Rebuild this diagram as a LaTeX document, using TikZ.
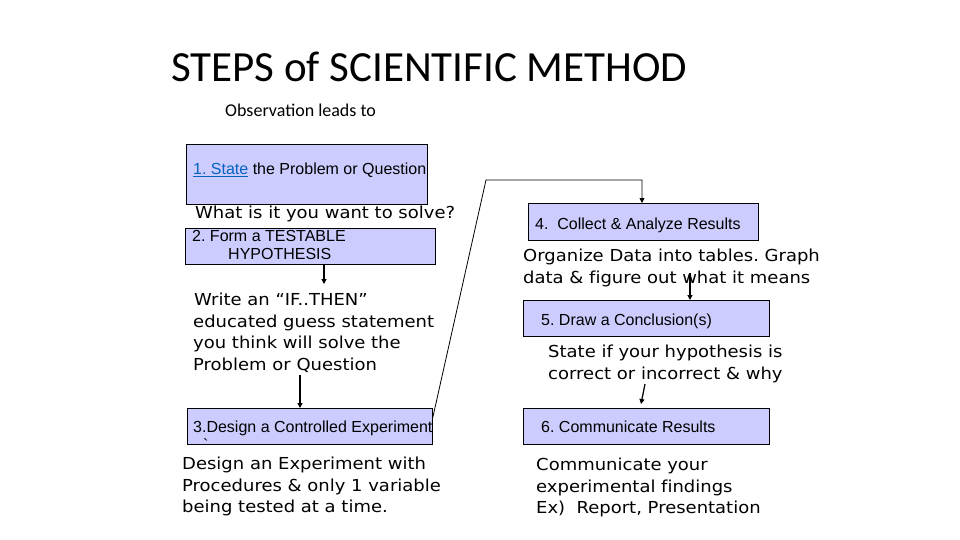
\documentclass[tikz,border=0pt]{standalone}
\usepackage{fontspec}
\setmainfont{Liberation Sans}
\newfontfamily\titlefont{Carlito}
\newfontfamily\bodyfont[FakeStretch=1.09,Ligatures=NoCommon]{DejaVu Sans}
\newfontfamily\boxfont{Liberation Sans}
\usetikzlibrary{arrows.meta}
\definecolor{boxfill}{RGB}{204,204,255}
\definecolor{linkblue}{RGB}{5,99,193}
\tikzset{
  stepbox/.style={draw=black, line width=0.8pt, fill=boxfill, anchor=north west, inner sep=0pt},
  boxtxt/.style={anchor=base west, inner sep=0pt, font=\boxfont\fontsize{16}{18}\selectfont},
  bodytxt/.style={anchor=base west, inner sep=0pt, font=\bodyfont\fontsize{16.5}{22}\selectfont},
  arr/.style={-{Triangle[length=5pt,width=5pt]}, line width=1.2pt},
  conn/.style={line width=0.8pt}
}
\frenchspacing
\begin{document}
\frenchspacing
\begin{tikzpicture}[x=1pt,y=-1pt]
\path[use as bounding box, fill=white] (0,0) rectangle (960,540);

% title
\node[anchor=base west, inner sep=0pt, font=\titlefont\fontsize{43}{50}\selectfont] (title) at (171,82) {STEPS of SCIENTIFIC METHOD};
\node[anchor=base west, inner sep=0pt, font=\titlefont\fontsize{18}{20}\selectfont] (obs) at (225,117) {Observation leads to};

% boxes
\node[stepbox, minimum width=241pt, minimum height=60pt] (b1) at (186,144) {};
\node[stepbox, minimum width=250pt, minimum height=36pt] (b2) at (185,228) {};
\node[stepbox, minimum width=245pt, minimum height=36pt] (b3) at (187,408) {};
\node[stepbox, minimum width=230pt, minimum height=37pt] (b4) at (528,203) {};
\node[stepbox, minimum width=246pt, minimum height=36pt] (b5) at (523,300) {};
\node[stepbox, minimum width=246pt, minimum height=36pt] (b6) at (523,408) {};

% box texts
\node[boxtxt] (b1t) at (193,175) {{\color{linkblue}\underline{1. State}} the Problem or Question};
\node[boxtxt] (b2t) at (192,241) {2. Form a TESTABLE};
\node[boxtxt] (b2u) at (228,259) {HYPOTHESIS};
\node[boxtxt] (b3t) at (193,432) {3.Design a Controlled Experiment};
\node[boxtxt] (b3u) at (203,450) {`};
\node[boxtxt] (b4t) at (535,229) {4.\ \ Collect \& Analyze Results};
\node[boxtxt] (b5t) at (541,325) {5. Draw a Conclusion(s)};
\node[boxtxt] (b6t) at (541,432) {6. Communicate Results};

% body texts
\node[bodytxt] (w1) at (195,218) {What is it you want to solve?};
\node[bodytxt] (h1) at (194,305) {Write an “IF..THEN”};
\node[bodytxt] (h2) at (193,327) {educated guess statement};
\node[bodytxt] (h3) at (193,348.5) {you think will solve the};
\node[bodytxt] (h4) at (193,370) {Problem or Question};
\node[bodytxt] (d1) at (182,469) {Design an Experiment with};
\node[bodytxt] (d2) at (182,491) {Procedures \& only 1 variable};
\node[bodytxt] (d3) at (182,512.5) {being tested at a time.};
\node[bodytxt] (o1) at (523,261) {Organize Data into tables. Graph};
\node[bodytxt] (o2) at (523,283) {data \& figure out what it means};
\node[bodytxt] (s1) at (548,357) {State if your hypothesis is};
\node[bodytxt] (s2) at (548,379) {correct or incorrect \& why};
\node[bodytxt] (c1t) at (536,470) {Communicate your};
\node[bodytxt] (c2t) at (536,492) {experimental findings};
\node[bodytxt] (c3t) at (536,513) {Ex)\ \ Report, Presentation};

% connectors
\coordinate (a1e) at (324,284);
\draw[arr] (a1e |- b2.south) -- (a1e);
\coordinate (a2s) at (300,375);
\draw[arr] (a2s) -- (a2s |- b3.north);
\coordinate (k1) at (486,180);
\coordinate (k2) at (642,180);
\draw[conn, -{Triangle[length=5pt,width=5pt]}] ([yshift=9pt]b3.east) -- (k1) -- (k2) -- (k2 |- b4.north);
\coordinate (a3s) at (690,273);
\draw[arr] (a3s) -- (a3s |- b5.north);
\coordinate (a4s) at (645,384);
\coordinate (a4e) at (641,404);
\draw[arr] (a4s) -- (a4e);
\end{tikzpicture}
\end{document}
